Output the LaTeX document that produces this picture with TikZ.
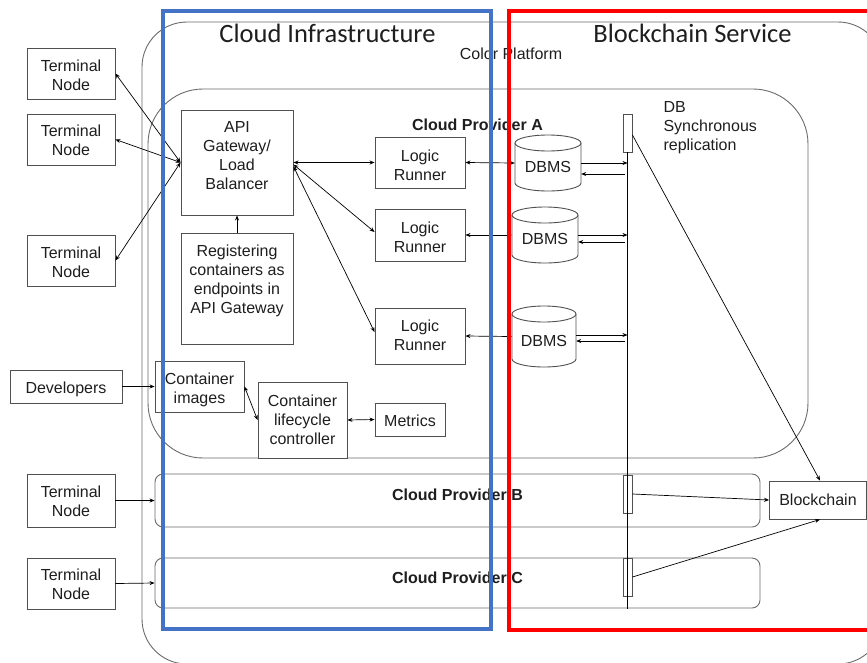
\documentclass[tikz,border=0pt]{standalone}
\usepackage{fontspec}
\setmainfont{Liberation Sans}
\newfontfamily\titlefont{Carlito}
\usetikzlibrary{arrows.meta}
\definecolor{infrablue}{HTML}{4472C4}
\definecolor{chainred}{HTML}{FF0000}
\definecolor{boxline}{HTML}{505050}
\definecolor{frameline}{HTML}{6A6A6A}
\definecolor{ink}{HTML}{1E1E1E}

% database cylinder: name, centre x, centre y, half width, half height
\newcommand\dbcyl[5]{%
  \node[minimum width=2*#4 pt, minimum height=2*#5 pt, inner sep=0pt] (#1) at (#2,#3) {};
  \fill[white] (#2-#4,#3-#5+8) rectangle (#2+#4,#3+#5-8);
  \draw[boxline, line width=0.9pt, fill=white]
    (#2-#4,#3-#5+8) -- (#2-#4,#3+#5-8)
    arc[start angle=180, end angle=360, x radius=#4 pt, y radius=8pt]
    -- (#2+#4,#3-#5+8);
  \draw[boxline, line width=0.9pt, fill=white]
    (#2,#3-#5+8) ellipse [x radius=#4 pt, y radius=8pt];
  \node[text=ink] at (#2,#3+4) {DBMS};
}

\begin{document}
\begin{tikzpicture}[x=1pt, y=-1pt,
  every node/.style={font=\fontsize{16}{19}\selectfont, text=ink},
  box/.style={draw=boxline, line width=0.9pt, fill=white, inner sep=0pt, align=center},
  frame/.style={draw=frameline, line width=0.9pt},
  boldlabel/.style={font=\fontsize{16}{19}\selectfont\bfseries},
  conn/.style={line width=0.7pt, draw=black},
  oneway/.style={conn, -{Stealth[length=5pt,width=4pt]}},
  twoway/.style={conn, {Stealth[length=5pt,width=4pt]}-{Stealth[length=5pt,width=4pt]}},
  syncbar/.style={draw=boxline, line width=0.9pt, inner sep=0pt, minimum width=9pt, minimum height=38pt},
]
\useasboundingbox (0,0) rectangle (867,662);
\clip (0,0) rectangle (867,662);

% platform and provider containers
\draw[frame, rounded corners=45pt] (142,22) rectangle (883,664);
\node[anchor=base] at (511,59) {Color Platform};

\node[frame, rounded corners=55pt, minimum width=660pt, minimum height=369pt, inner sep=0pt] (cpa) at (478,273.5) {};
\node[boldlabel, anchor=base] at (477.5,130) {Cloud Provider A};

\node[frame, rounded corners=8pt, minimum width=605pt, minimum height=53pt, inner sep=0pt] (cpb) at (457.5,500.5) {};
\node[boldlabel] at (457.5,495) {Cloud Provider B};

\node[frame, rounded corners=8pt, minimum width=605pt, minimum height=50pt, inner sep=0pt] (cpc) at (457.5,583) {};
\node[boldlabel] at (457.5,578) {Cloud Provider C};

% terminals and developers
\node[box, text height=33.5pt, minimum width=88pt, minimum height=51pt] (t1) at (71,73.5) {Terminal\\Node};
\node[box, text height=33pt, minimum width=88pt, minimum height=51pt] (t2) at (71,139.5) {Terminal\\Node};
\node[box, text height=33.5pt, minimum width=88pt, minimum height=51pt] (t3) at (71,260.5) {Terminal\\Node};
\node[box, text height=33pt, minimum width=88pt, minimum height=53pt] (t4) at (71,500.5) {Terminal\\Node};
\node[box, text height=32pt, minimum width=88pt, minimum height=51pt] (t5) at (71,583.5) {Terminal\\Node};
\node[box, text height=16.5pt, minimum width=112pt, minimum height=33pt] (dev) at (66,386.5) {Developers};

% provider A components
\node[box, text depth=13.4pt, minimum width=112pt, minimum height=105pt] (api) at (237,162.5) {API\\Gateway/\\Load\\Balancer};
\node[box, text depth=19.4pt, minimum width=112pt, minimum height=111pt] (reg) at (237,288.5) {Registering\\containers as\\endpoints in\\API Gateway};
\node[box, text height=36.5pt, minimum width=90pt, minimum height=51pt] (lr1) at (420,162.5) {Logic\\Runner};
\node[box, text height=34.5pt, minimum width=90pt, minimum height=52pt] (lr2) at (420,235) {Logic\\Runner};
\node[box, text depth=2pt, minimum width=90pt, minimum height=56pt] (lr3) at (420,336) {Logic\\Runner};
\node[box, text height=36.5pt, minimum width=89pt, minimum height=51pt] (ci) at (199.5,386.5) {Container\\images};
\node[box, minimum width=89pt, minimum height=76pt] (clc) at (302.5,420) {Container\\lifecycle\\controller};
\node[box, text height=14.3pt, minimum width=70pt, minimum height=33pt] (met) at (410,419.5) {Metrics};

\dbcyl{db1}{548}{163}{33}{28}
\dbcyl{db2}{545}{235}{33}{28}
\dbcyl{db3}{544}{336.5}{32}{30.5}

% replication bars and blockchain
\node[syncbar] (bar1) at (627.5,133) {};
\node[syncbar] (bar2) at (627.5,494) {};
\node[syncbar] (bar3) at (627.5,577) {};
\node[anchor=base west, align=left] at (660,150) {DB\\Synchronous\\replication};
\node[box, minimum width=97pt, minimum height=38pt] (bc) at (818,500) {Blockchain};

\coordinate (vbot) at (627.5,609);
\draw[conn] (bar1.south) -- (vbot);

% connectors
\draw[twoway] (t1.east) -- (api.west);
\draw[twoway] (t2.east) -- (api.west);
\draw[twoway] (t3.east) -- (api.west);
\draw[oneway] (t4.east) -- (cpb.west);
\draw[oneway] (t5.east) -- (cpc.west);
\draw[oneway] (dev.east) -- (ci.west);
\draw[oneway] (reg.north) -- (api.south);
\draw[twoway] (api.east) -- (lr1.west);
\draw[twoway] ([yshift=-2pt]api.east) -- ([yshift=3pt]lr2.west);
\draw[twoway] ([yshift=-4pt]api.east) -- ([yshift=4pt]lr3.west);
\draw[twoway] (ci.east) -- (clc.west);
\draw[twoway] (clc.east) -- (met.west);

\draw[twoway] (db1.west) -- (lr1.east);
\draw[twoway] (db2.west) -- (lr2.east);
\draw[twoway] (db3.west) -- (lr3.east);

\coordinate (s1a) at (627.5,163);
\coordinate (s1b) at (625,174);
\coordinate (s2a) at (627.5,235);
\coordinate (s2b) at (625,242);
\coordinate (s3a) at (627.5,335);
\coordinate (s3b) at (625,341);
\draw[oneway] (s1a -| db1.east) -- (s1a);
\draw[oneway] (s1b) -- (s1b -| db1.east);
\draw[oneway] (s2a -| db2.east) -- (s2a);
\draw[oneway] (s2b) -- (s2b -| db2.east);
\draw[oneway] (s3a -| db3.east) -- (s3a);
\draw[oneway] (s3b) -- (s3b -| db3.east);

\draw[oneway] ([yshift=-2pt]bar1.east) -- ([xshift=2pt]bc.north);
\draw[oneway] (bar2.east) -- (bc.west);
\draw[oneway] (bar3.east) -- ([xshift=2pt]bc.south);

% domain outlines
\draw[infrablue, line width=4pt] (163,11) rectangle (491,629);
\draw[chainred, line width=4.5pt] (509,11) rectangle (895,630);
\node[font=\titlefont\fontsize{26.5}{30}\selectfont, anchor=base] at (327.5,42) {Cloud Infrastructure};
\node[font=\titlefont\fontsize{26.5}{30}\selectfont, anchor=base] at (692.5,42) {Blockchain Service};
\end{tikzpicture}
\end{document}
